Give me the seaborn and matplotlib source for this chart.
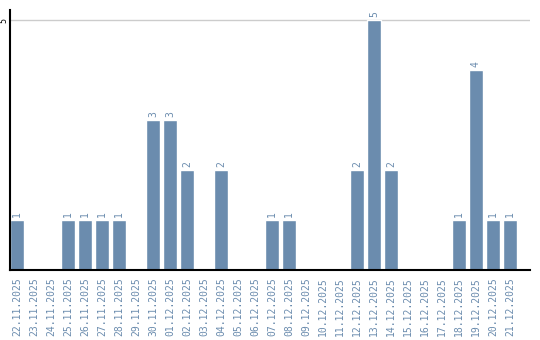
import matplotlib
matplotlib.use("Agg")
import matplotlib.pyplot as plt
import seaborn as sns
import pandas as pd

dates = ["22.11.2025", "23.11.2025", "24.11.2025", "25.11.2025", "26.11.2025",
         "27.11.2025", "28.11.2025", "29.11.2025", "30.11.2025", "01.12.2025",
         "02.12.2025", "03.12.2025", "04.12.2025", "05.12.2025", "06.12.2025",
         "07.12.2025", "08.12.2025", "09.12.2025", "10.12.2025", "11.12.2025",
         "12.12.2025", "13.12.2025", "14.12.2025", "15.12.2025", "16.12.2025",
         "17.12.2025", "18.12.2025", "19.12.2025", "20.12.2025", "21.12.2025"]
counts = [1, 0, 0, 1, 1, 1, 1, 0, 3, 3,
          2, 0, 2, 0, 0, 1, 1, 0, 0, 0,
          2, 5, 2, 0, 0, 0, 1, 4, 1, 1]
yticks = [5]

df = pd.DataFrame({"date": dates, "count": counts})

sns.set_style("white")
bar_color = "#6b8cae"
label_color = "#6b8cae"

fig = plt.figure(figsize=(5.4, 3.4), dpi=100)
ax = fig.add_axes([10 / 540, 70 / 340, 520 / 540, 260 / 340])

sns.barplot(data=df, x="date", y="count", color=bar_color, width=14 / 17,
            saturation=1, ax=ax, zorder=2)

ax.set_xlim(-0.41, 30.18)
ax.set_ylim(0, 5.2)
ax.set_yticks(yticks)
ax.set_yticklabels([str(v) for v in yticks], rotation=90, va="center",
                   fontsize=6, family="DejaVu Sans Mono", color="black")
ax.tick_params(axis="y", length=0, pad=1.5)
ax.tick_params(axis="x", length=0, pad=5)
for lab in ax.get_xticklabels():
    lab.set_rotation(90)
    lab.set_fontsize(7)
    lab.set_family("DejaVu Sans Mono")
    lab.set_color(label_color)
    lab.set_va("top")
    lab.set_ha("center")

ax.yaxis.grid(True, color="#cccccc", linewidth=1, zorder=0)
ax.xaxis.grid(False)
ax.set_xlabel("")
ax.set_ylabel("")

for side in ["top", "right"]:
    ax.spines[side].set_visible(False)
for side in ["left", "bottom"]:
    ax.spines[side].set_visible(True)
    ax.spines[side].set_color("black")
    ax.spines[side].set_linewidth(1.5)

for container in ax.containers:
    labels = [str(int(v)) if v > 0 else "" for v in container.datavalues]
    ax.bar_label(container, labels=labels, rotation=90, padding=2,
                 fontsize=7, family="DejaVu Sans Mono", color=label_color)

fig.savefig("out.png", dpi=100)
